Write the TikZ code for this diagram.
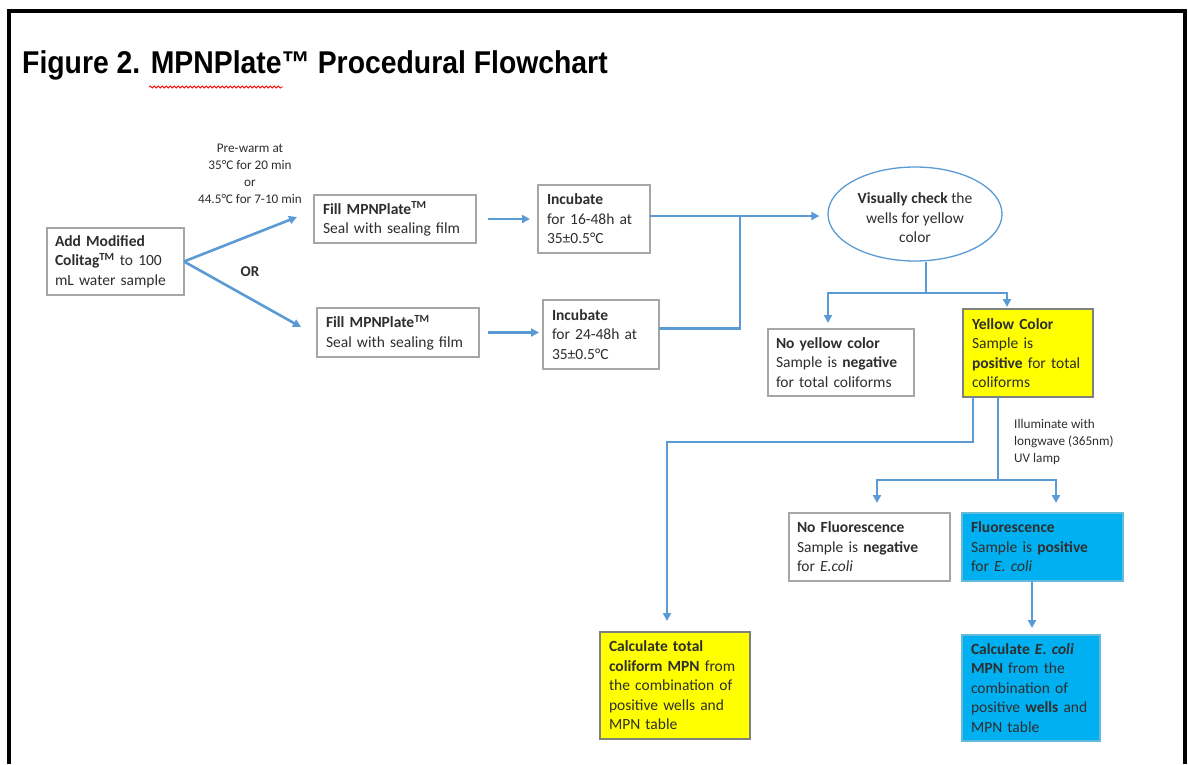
\documentclass[tikz,border=0pt]{standalone}
\usepackage{fontspec}
\setmainfont{Carlito}
\newfontfamily\titlefont[FakeStretch=0.9]{Liberation Sans}
\usetikzlibrary{arrows.meta,shapes.geometric,decorations.pathmorphing,calc}
\definecolor{lineblue}{HTML}{5B9BD5}
\definecolor{boxgray}{HTML}{A6A6A6}
\definecolor{ybox}{HTML}{FFFF00}
\definecolor{bbox}{HTML}{00B0F0}
\definecolor{txt}{HTML}{2E2E2E}
\newcommand\bodyf{\fontsize{15.5}{19.5}\selectfont}
\newcommand\lblfont{\fontsize{13.2}{17}\selectfont}
\begin{document}
\begin{tikzpicture}[x=1pt,y=-1pt,
  box/.style={draw=boxgray, line width=1.2pt, fill=white, anchor=north west, align=left,
    outer sep=0pt, inner ysep=2pt, text=txt, font=\bodyf},
  line/.style={draw=lineblue, line width=2.6pt, line join=miter},
  arr/.style={line, -{Triangle[length=8pt,width=8pt]}},
  lbl/.style={font=\lblfont, text=txt, inner sep=0pt}]
\useasboundingbox (0,0) rectangle (1188,764);
\fill[white] (0,0) rectangle (1188,764);

% frame
\draw[line width=4pt] (9,764) -- (9,11) -- (1185,11) -- (1185,764);

% title
\node[anchor=base west, inner sep=0pt, font=\titlefont\fontsize{31.5}{36}\selectfont\bfseries, text=black] (title) at (22,73) {Figure 2. MPNPlate™ Procedural Flowchart};
\draw[red, line width=0.8pt, decorate, decoration={snake, amplitude=1pt, segment length=4pt}] (149,87) -- (283,87);

% boxes
\node[box, minimum width=137pt, minimum height=67pt, text width=121pt, inner xsep=8pt] (add) at (47,228)
  {\mbox{\textbf{Add Modified}}\\\mbox{\textbf{Colitag\textsuperscript{TM}} to 100}\\\mbox{mL water sample}};
\node[box, minimum width=162pt, minimum height=48pt, text width=144pt, inner xsep=9pt] (fill1) at (314,195)
  {\mbox{\textbf{Fill MPNPlate\textsuperscript{TM}}}\\\mbox{Seal with sealing film}};
\node[box, minimum width=162pt, minimum height=49pt, text width=144pt, inner xsep=9pt] (fill2) at (317,308)
  {\mbox{\textbf{Fill MPNPlate\textsuperscript{TM}}}\\\mbox{Seal with sealing film}};
\node[box, minimum width=112pt, minimum height=68pt, text width=94pt, inner xsep=9pt] (inc1) at (538,185)
  {\mbox{\textbf{Incubate}}\\\mbox{for 16-48h at}\\\mbox{35±0.5°C}};
\node[box, minimum width=116pt, minimum height=69pt, text width=98pt, inner xsep=9pt] (inc2) at (543,300)
  {\mbox{\textbf{Incubate}}\\\mbox{for 24-48h at}\\\mbox{35±0.5°C}};
\node[ellipse, draw=lineblue, line width=1.3pt, minimum width=174pt, minimum height=94pt, inner sep=0pt,
  align=center, font=\bodyf, text=txt] (ell) at (915,214)
  {\rule{0pt}{19pt}\textbf{Visually check} the\\wells for yellow\\color};
\node[box, minimum width=146pt, minimum height=67pt, text width=130pt, inner xsep=8pt] (noy) at (768,329)
  {\mbox{\textbf{No yellow color}}\\\mbox{Sample is \textbf{negative}}\\\mbox{for total coliforms}};
\node[box, draw=gray, fill=ybox, minimum width=130pt, minimum height=88pt, text width=112pt, inner xsep=9pt] (yb) at (963,309)
  {\mbox{\textbf{Yellow Color}}\\\mbox{Sample is}\\\mbox{\textbf{positive} for total}\\\mbox{coliforms}};
\node[box, minimum width=161pt, minimum height=68pt, text width=145pt, inner xsep=8pt] (nofl) at (789,513)
  {\mbox{\textbf{No Fluorescence}}\\\mbox{Sample is \textbf{negative}}\\\mbox{for \textit{E.coli}}};
\node[box, draw=bbox!80!black!60, fill=bbox, minimum width=161pt, minimum height=68pt, text width=143pt, inner xsep=9pt] (fl) at (962,513)
  {\mbox{\textbf{Fluorescence}}\\\mbox{Sample is \textbf{positive}}\\\mbox{for \textit{E. coli}}};
\node[box, draw=gray, fill=ybox, minimum width=150pt, minimum height=107pt, text width=132pt, inner xsep=9pt] (cy) at (600,632)
  {\mbox{\textbf{Calculate total}}\\\mbox{\textbf{coliform MPN} from}\\\mbox{the combination of}\\\mbox{positive wells and}\\\mbox{MPN table}};
\node[box, draw=bbox!80!black!60, fill=bbox, minimum width=138pt, minimum height=106pt, text width=120pt, inner xsep=9pt] (cb) at (962,635)
  {\mbox{\textbf{Calculate \textit{E. coli}}}\\\mbox{\textbf{MPN} from the}\\\mbox{combination of}\\\mbox{positive \textbf{wells} and}\\\mbox{MPN table}};

% labels
\node[lbl, align=center] (prewarm) at (250,174) {Pre-warm at\\35°C for 20 min\\or\\44.5°C for 7-10 min};
\node[font=\bfseries\fontsize{15}{18}\selectfont, text=txt, inner sep=0pt] (orlbl) at (250,272) {OR};
\node[lbl, anchor=west, align=left] (illum) at (1014,442) {Illuminate with\\longwave (365nm)\\UV lamp};

% connectors
\coordinate (t1) at (297,217);
\coordinate (t2) at (301,327);
\draw[arr] (add.east) -- (t1);
\draw[arr] (add.east) -- (t2);
\draw[arr, shorten <=12pt, shorten >=8pt] (fill1.east) -- (fill1.east -| inc1.west);
\draw[arr, shorten <=9pt, shorten >=4pt] (fill2.east) -- (fill2.east -| inc2.west);
\coordinate (j1) at (740,216);
\draw[arr, shorten >=8pt] ([yshift=3pt]inc1.east) -- ([yshift=3pt]inc1.east -| ell.west);
\draw[line] ([yshift=6pt]inc2.east) -| (j1);

\coordinate (b1) at (926,293);
\draw[line] (ell.south -| b1) -- (b1);
\draw[arr, shorten >=6pt] (b1) -| ([xshift=-13pt]noy.north);
\draw[arr, shorten >=2pt] (b1) -| ([xshift=-21pt]yb.north);

\coordinate (k1) at (667,442);
\draw[arr, shorten >=11pt] ([xshift=10pt]yb.south west) |- (k1) -- (k1 |- cy.north);
\coordinate (k2) at (998,480);
\draw[line] ([xshift=35pt]yb.south west) -- (k2);
\draw[arr, shorten >=10pt] (k2) -| ([xshift=7.5pt]nofl.north);
\draw[arr, shorten >=10pt] (k2) -| ([xshift=13.5pt]fl.north);
\draw[arr, shorten >=7pt] ([xshift=-10.5pt]fl.south) -- ([xshift=-10.5pt]fl.south |- cb.north);
\end{tikzpicture}
\end{document}
